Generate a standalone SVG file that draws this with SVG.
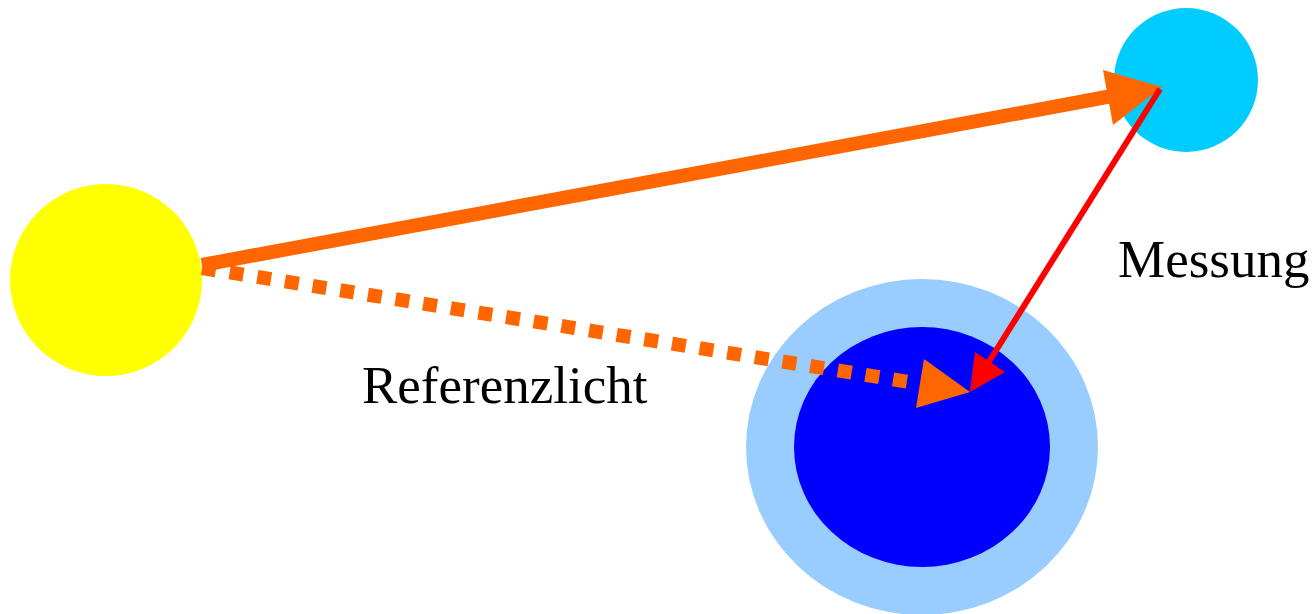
<svg xmlns="http://www.w3.org/2000/svg" width="1315" height="614" viewBox="0 0 1315 614">
<style>
.lbl{font-family:"Liberation Serif","Times New Roman",serif;font-size:53px;fill:#000}
.orange{stroke:#ff6600;fill:none;stroke-width:14}
.dash{stroke-dasharray:14 14}
.red{stroke:#ff0000;fill:none;stroke-width:6}
</style>
<rect width="1315" height="614" fill="#fff"/>
<g id="sun"><circle cx="106" cy="280" r="96" fill="#ffff00"/></g>
<g id="satellite"><circle cx="1186" cy="80" r="72" fill="#00ccff"/></g>
<g id="earth"><ellipse cx="922" cy="447" rx="176" ry="168" fill="#99ccff"/><ellipse cx="922" cy="447" rx="128" ry="120" fill="#0000ff"/></g>
<g id="connectors">
<path class="orange" d="M202,265 L1112,96"/>
<polygon points="1162,87 1103,70 1113,125" fill="#ff6600"/>
<path class="orange dash" d="M202,268 L922,384"/>
<polygon points="970,392 924,359 916,408" fill="#ff6600"/>
<path class="red" d="M1160,89 L985,368"/>
<polygon points="970,392 975,352 1005,372" fill="#ff0000"/>
</g>
<text class="lbl" x="1118" y="277">Messung</text>
<text class="lbl" x="362" y="403">Referenzlicht</text>
</svg>
